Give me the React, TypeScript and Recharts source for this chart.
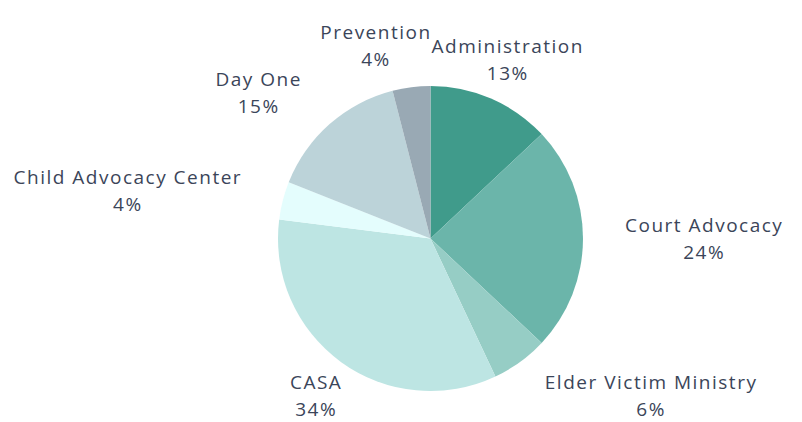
import { PieChart, Pie, Cell } from "recharts";

const programs = [
  "Administration",
  "Court Advocacy",
  "Elder Victim Ministry",
  "CASA",
  "Child Advocacy Center",
  "Day One",
  "Prevention",
];
const shares = [13, 24, 6, 34, 4, 15, 4];
const colors = ["#409b8b", "#6bb5aa", "#96cdc5", "#bde5e3", "#e4fdfd", "#bcd3d9", "#99a9b4"];

const data = programs.map((name, i) => ({ name, value: shares[i] }));

const FONT_SIZE = 19;
const FONT_FAMILY = '"Open Sans", sans-serif';
const SPACING = 1.5;
const TEXT = "#3b4559";

let ctx: CanvasRenderingContext2D | null = null;
const textWidth = (s: string) => {
  if (!ctx) ctx = document.createElement("canvas").getContext("2d");
  if (!ctx) return s.length * FONT_SIZE * 0.6;
  ctx.font = `${FONT_SIZE}px ${FONT_FAMILY}`;
  return ctx.measureText(s).width + s.length * SPACING;
};

type Box = { x0: number; x1: number; y0: number; y1: number };
const placed: Record<number, Box> = {};

const renderLabel = (props: any) => {
  const { cx, cy, midAngle, outerRadius, percent, name, index } = props;
  const rad = (-midAngle * Math.PI) / 180;
  const r = outerRadius + 42;
  const px = cx + r * Math.cos(rad);
  const py = cy + r * Math.sin(rad);
  const pct = `${Math.round(percent * 100)}%`;
  const w = Math.max(textWidth(name), textWidth(pct));
  const hh = 22;
  let x = px;

  // centered box would touch the pie -> push it sideways
  const nx = Math.max(x - w / 2, Math.min(cx, x + w / 2));
  const ny = Math.max(py - hh, Math.min(cy, py + hh));
  if (Math.hypot(nx - cx, ny - cy) < outerRadius) x = px > cx ? px + w / 2 : px - w / 2;

  // don't overlap labels already drawn
  Object.keys(placed).forEach((k) => {
    const o = placed[+k];
    if (+k >= index) return;
    const overlap = x - w / 2 < o.x1 && x + w / 2 > o.x0 && py - hh < o.y1 && py + hh > o.y0;
    if (overlap) x = x < (o.x0 + o.x1) / 2 ? o.x0 - w / 2 : o.x1 + w / 2;
  });
  placed[index] = { x0: x - w / 2, x1: x + w / 2, y0: py - hh, y1: py + hh };

  const style = { fontFamily: FONT_FAMILY, fontSize: FONT_SIZE, letterSpacing: SPACING };
  return (
    <g>
      <text x={x} y={py - 13.5} textAnchor="middle" dominantBaseline="central" fill={TEXT} style={style}>
        {name}
      </text>
      <text x={x} y={py + 13.5} textAnchor="middle" dominantBaseline="central" fill={TEXT} style={style}>
        {pct}
      </text>
    </g>
  );
};

export default function App() {
  return (
    <div style={{ position: "fixed", top: 0, left: 0, background: "#fff" }}>
      <PieChart width={802} height={422} margin={{ top: 0, right: 0, bottom: 0, left: 0 }}>
        <Pie
          data={data}
          dataKey="value"
          nameKey="name"
          cx={430.5}
          cy={238.5}
          outerRadius={152.5}
          startAngle={90}
          endAngle={-270}
          stroke="none"
          label={renderLabel}
          labelLine={false}
          isAnimationActive={false}
        >
          {data.map((d, i) => (
            <Cell key={d.name} fill={colors[i]} />
          ))}
        </Pie>
      </PieChart>
    </div>
  );
}
